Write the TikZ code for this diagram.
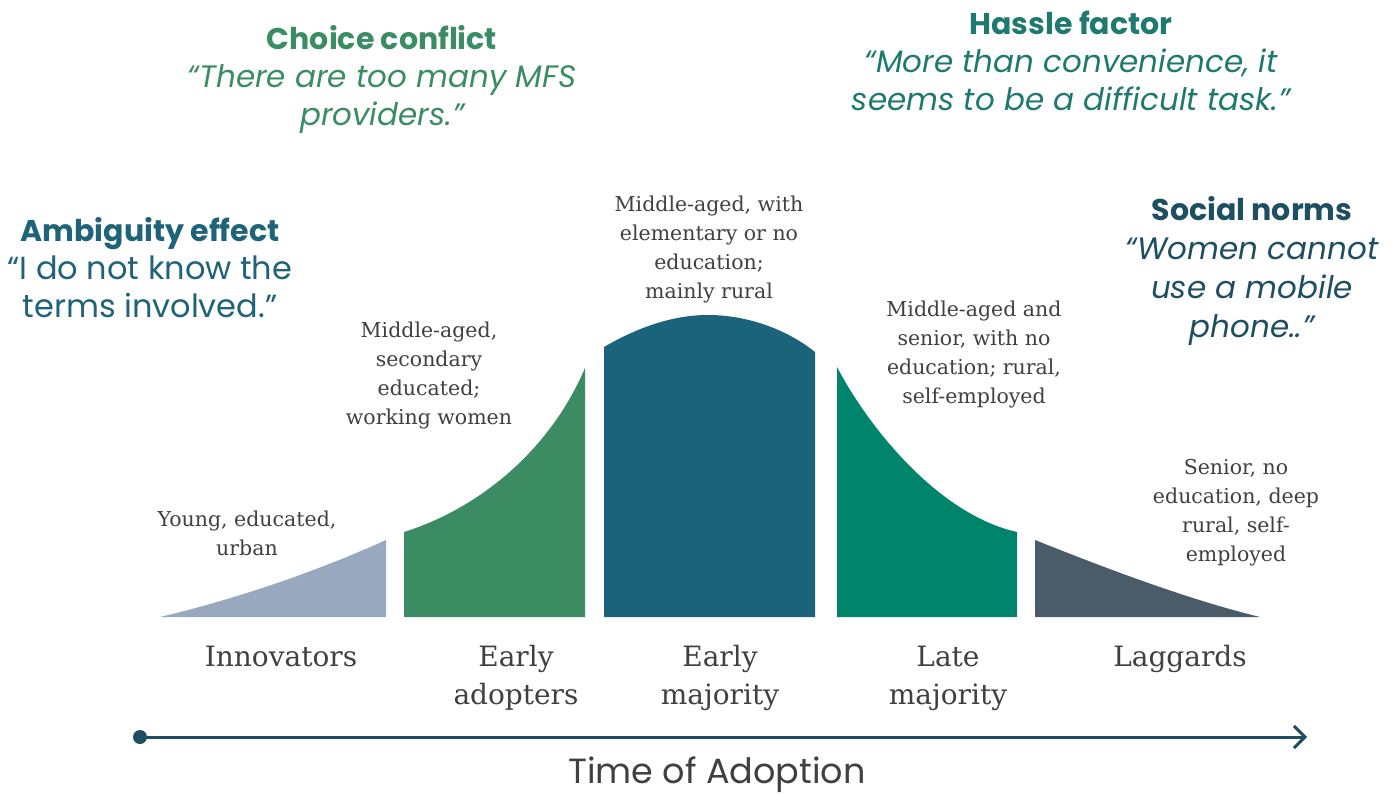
\documentclass[tikz,border=0pt]{standalone}
\usepackage{fontspec}
\setmainfont{DejaVu Serif}
\newfontfamily\gothic{Poppins}
\usetikzlibrary{arrows.meta}
\definecolor{cInno}{HTML}{98A8BE}
\definecolor{cEarlyA}{HTML}{3C8C63}
\definecolor{cEarlyM}{HTML}{1B637B}
\definecolor{cLate}{HTML}{00846C}
\definecolor{cLag}{HTML}{4A5B6A}
\definecolor{hAmb}{HTML}{1E6378}
\definecolor{hChoice}{HTML}{3A8C62}
\definecolor{hHassle}{HTML}{1E7A6E}
\definecolor{hSocial}{HTML}{1E4E62}
\definecolor{txt}{HTML}{404040}
\definecolor{axisc}{HTML}{1E4E62}
\tikzset{
  head/.style={inner sep=0, anchor=base, font=\gothic\bfseries\fontsize{30}{36}\selectfont},
  quote/.style={inner sep=0, anchor=base, align=center, font=\gothic\fontsize{32}{38}\selectfont},
  iquote/.style={quote, font=\gothic\itshape\fontsize{31}{38}\selectfont},
  desc/.style={inner sep=0, anchor=base, align=center, text=txt, font=\fontsize{20.5}{28.7}\selectfont},
  cat/.style={inner sep=0, anchor=base, align=center, text=txt, font=\fontsize{28}{38}\selectfont},
}
\begin{document}
\begin{tikzpicture}[x=1pt,y=-1pt]
\useasboundingbox (0,0) rectangle (1396,794);

% segments of the adoption curve
\fill[cInno] (160,617) .. controls (240,598) and (320,570) .. (386,540) -- (386,617) -- cycle;
\fill[cEarlyA] (404,617) -- (404,532) .. controls (480,508) and (550,450) .. (585,368) -- (585,617) -- cycle;
\fill[cEarlyM] (604,617) -- (604,347) .. controls (640,326) and (675,315) .. (708,315)
  .. controls (745,315) and (785,328) .. (815,352) -- (815,617) -- cycle;
\fill[cLate] (837,617) -- (837,367) .. controls (870,430) and (940,515) .. (1017,532) -- (1017,617) -- cycle;
\fill[cLag] (1035,617) -- (1035,540) .. controls (1110,570) and (1190,600) .. (1260,617) -- cycle;

% headings and quotes (base anchor = last line's baseline)
\node[head, text=hAmb] (hamb) at (150,242) {Ambiguity effect};
\node[quote, text=hAmb] (qamb) at (150,317) {“I do not know the\\terms involved.”};
\node[head, text=hChoice] (hcho) at (382,50) {Choice conflict};
\node[iquote, text=hChoice] (qcho) at (382,126) {“There are too many MFS\\providers.”};
\node[head, text=hHassle] (hhas) at (1071,35) {Hassle factor};
\node[iquote, text=hHassle] (qhas) at (1071,111) {“More than convenience, it\\seems to be a difficult task.”};
\node[head, text=hSocial] (hsoc) at (1252,221) {Social norms};
\node[iquote, text=hSocial, font=\gothic\itshape\fontsize{31}{39}\selectfont] (qsoc) at (1252,337) {“Women cannot\\use a mobile\\phone..”};

% descriptions
\node[desc] (d1) at (247,555) {Young, educated,\\urban};
\node[desc] (d2) at (429,424) {Middle-aged,\\secondary\\educated;\\working women};
\node[desc] (d3) at (709,298) {Middle-aged, with\\elementary or no\\education;\\mainly rural};
\node[desc] (d4) at (974,403) {Middle-aged and\\senior, with no\\education; rural,\\self-employed};
\node[desc] (d5) at (1236,561) {Senior, no\\education, deep\\rural, self-\\employed};

% categories
\node[cat] (c1) at (281,666) {Innovators};
\node[cat] (c2) at (516,704) {Early\\adopters};
\node[cat] (c3) at (720,704) {Early\\majority};
\node[cat] (c4) at (948,704) {Late\\majority};
\node[cat] (c5) at (1180,666) {Laggards};

% axis
\node[circle, fill=axisc, minimum size=14, inner sep=0] (ax0) at (140,737) {};
\coordinate (ax1) at (1307,737);
\draw[axisc, line width=3, -{Straight Barb[length=11,width=22]}] (ax0.center) -- (ax1);
\node[inner sep=0, anchor=base, text=txt, font=\gothic\fontsize{35}{40}\selectfont] (tl) at (717,783) {Time of Adoption};
\end{tikzpicture}
\end{document}
